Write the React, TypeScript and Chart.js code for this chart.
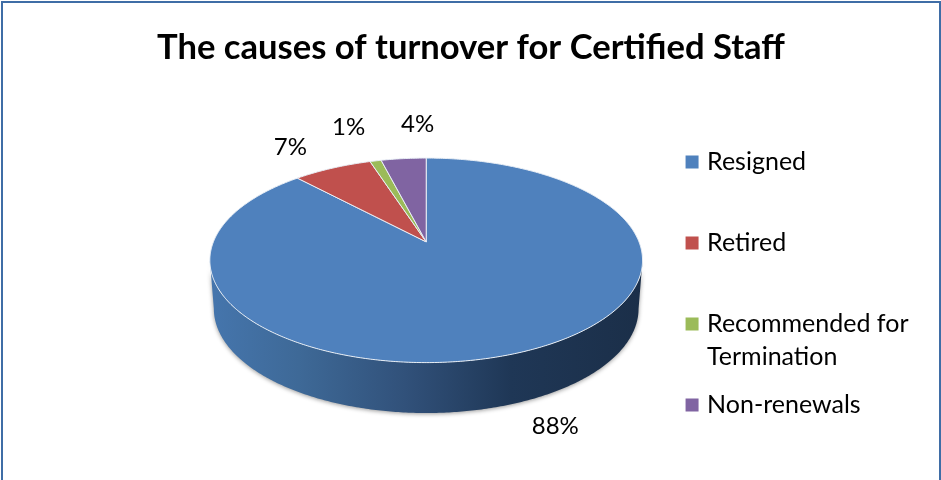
import React, { useEffect, useRef } from "react";
import { ArcElement, Chart, PieController, registerables } from "chart.js";

const titleText = "The causes of turnover for Certified Staff";
const categories = [
  ["Resigned", " "],
  ["Retired", " "],
  ["Recommended for", "Termination"],
  ["Non-renewals", " "],
];
const shares = [88, 7, 1, 4];
const sliceColors = ["#4F81BD", "#C0504D", "#9BBB59", "#8064A2"];

// Nudges of each percentage label away from the rim of its slice, in pixels.
const labelNudges = [
  [35, 74],
  [-42, -21],
  [-27, -34],
  [14, -34],
];

const FONT = "Lato, 'Open Sans', sans-serif";

// Perspective of the tilted disc, as ratios of the library's outer radius.
const SOLID = {
  shiftX: 0.0553,
  shiftY: -0.226,
  width: 1.129,
  depth: 0.525,
  foreshorten: 0.18,
  wallDrop: 48.5 / 189,
  wallWidth: 0.9816,
  wallDepth: 1.02,
};

const wallShades: [number, string][] = [
  [0, "#4575AC"],
  [0.2, "#3E6997"],
  [0.45, "#31517A"],
  [0.7, "#1F3756"],
  [1, "#1B2F49"],
];

type Point = { x: number; y: number };

function rimPoint(arc: any, theta: number): Point {
  const r = arc.outerRadius;
  const w = 1 + SOLID.foreshorten * Math.cos(theta);
  return {
    x: arc.x + SOLID.shiftX * r + (SOLID.width * r * Math.sin(theta)) / w,
    y: arc.y + SOLID.shiftY * r - (SOLID.depth * r * Math.cos(theta)) / w,
  };
}

function apexOf(arc: any): Point {
  const r = arc.outerRadius;
  return { x: arc.x + SOLID.shiftX * r, y: arc.y + SOLID.shiftY * r };
}

// The lower rim is the upper rim pulled in slightly and dropped by the wall height.
function lowerRimPoint(arc: any, theta: number): Point {
  const r = arc.outerRadius;
  const top = rimPoint(arc, theta);
  const cx = apexOf(arc).x;
  const k = SOLID.foreshorten;
  const midY = apexOf(arc).y + (SOLID.depth * r * k) / (1 - k * k);
  return {
    x: cx + (top.x - cx) * SOLID.wallWidth,
    y: midY + SOLID.wallDrop * r + (top.y - midY) * SOLID.wallDepth,
  };
}

function sweep(from: number, to: number): number[] {
  const steps = Math.max(2, Math.ceil((to - from) / 0.01));
  const out: number[] = [];
  for (let i = 0; i <= steps; i++) out.push(from + ((to - from) * i) / steps);
  return out;
}

class PerspectiveArc extends ArcElement {
  static id = "perspectiveArc";

  draw(ctx: CanvasRenderingContext2D) {
    const arc: any = this;
    const from = arc.startAngle + Math.PI / 2;
    const to = arc.endAngle + Math.PI / 2;
    const { backgroundColor, borderColor, borderWidth } = arc.options;

    // Front wall: only the part of the rim that faces the viewer.
    const frontStart = Math.acos(-SOLID.foreshorten);
    const frontEnd = Math.PI * 2 - frontStart;
    const lo = Math.max(from, frontStart);
    const hi = Math.min(to, frontEnd);
    if (lo < hi) {
      const angles = sweep(lo, hi);
      const left = lowerRimPoint(arc, frontEnd).x;
      const right = lowerRimPoint(arc, frontStart).x;
      const fill = ctx.createLinearGradient(left, 0, right, 0);
      wallShades.forEach(([stop, color]) => fill.addColorStop(stop, color));
      ctx.save();
      ctx.beginPath();
      angles.forEach((t, i) => {
        const p = rimPoint(arc, t);
        if (i === 0) ctx.moveTo(p.x, p.y);
        else ctx.lineTo(p.x, p.y);
      });
      [...angles].reverse().forEach((t) => {
        const p = lowerRimPoint(arc, t);
        ctx.lineTo(p.x, p.y);
      });
      ctx.closePath();
      ctx.shadowColor = "rgba(0,0,0,0.4)";
      ctx.shadowBlur = 4;
      ctx.shadowOffsetY = 1;
      ctx.fillStyle = fill;
      ctx.fill();
      ctx.restore();
    }

    // Top face of the slice.
    const apex = apexOf(arc);
    ctx.save();
    ctx.beginPath();
    ctx.moveTo(apex.x, apex.y);
    sweep(from, to).forEach((t) => {
      const p = rimPoint(arc, t);
      ctx.lineTo(p.x, p.y);
    });
    ctx.closePath();
    ctx.fillStyle = backgroundColor;
    ctx.fill();
    ctx.strokeStyle = borderColor;
    ctx.lineWidth = borderWidth;
    ctx.lineJoin = "round";
    ctx.stroke();
    ctx.restore();
  }
}

class PerspectivePie extends PieController {
  static id = "perspectivePie";
  static defaults = { dataElementType: "perspectiveArc" };
}

const percentLabels = {
  id: "percentLabels",
  afterDatasetsDraw(chart: any) {
    const { ctx } = chart;
    const arcs = chart.getDatasetMeta(0).data;
    const total = shares.reduce((a, b) => a + b, 0);
    ctx.save();
    ctx.font = `24px ${FONT}`;
    ctx.fillStyle = "#000";
    ctx.textAlign = "center";
    ctx.textBaseline = "middle";
    arcs.forEach((arc: any, i: number) => {
      const mid = (arc.startAngle + arc.endAngle) / 2 + Math.PI / 2;
      const rim = rimPoint(arc, mid);
      const text = `${Math.round((shares[i] / total) * 100)}%`;
      ctx.fillText(text, rim.x + labelNudges[i][0], rim.y + labelNudges[i][1]);
    });
    ctx.restore();
  },
};

Chart.register(...registerables, PerspectiveArc as any, PerspectivePie as any);

export default function App() {
  const canvasRef = useRef<HTMLCanvasElement>(null);

  useEffect(() => {
    const chart = new Chart(canvasRef.current!, {
      type: "perspectivePie" as any,
      data: {
        labels: categories as any,
        datasets: [
          {
            data: shares,
            backgroundColor: sliceColors,
            borderColor: "#E8EEF5",
            borderWidth: 1,
          },
        ],
      },
      options: {
        responsive: false,
        maintainAspectRatio: false,
        animation: false,
        events: [],
        layout: { padding: { left: 157, right: 22.5, top: 0, bottom: 6.5 } },
        plugins: {
          title: {
            display: true,
            text: titleText,
            align: "start",
            color: "#000",
            font: { family: FONT, size: 34.6, weight: "bold", lineHeight: 1.2 },
            padding: { top: 27, bottom: 27 },
          },
          legend: {
            display: true,
            position: "right",
            align: "end",
            labels: {
              color: "#000",
              font: { family: FONT, size: 25, lineHeight: 1.32 },
              usePointStyle: true,
              pointStyle: "rect",
              boxWidth: 5,
              boxHeight: 13,
              padding: 15,
              generateLabels: () =>
                categories.map((text, i) => ({
                  text: text as any,
                  fillStyle: sliceColors[i],
                  strokeStyle: sliceColors[i],
                  lineWidth: 0,
                  pointStyle: "rect",
                  index: i,
                })),
            },
          },
          tooltip: { enabled: false },
        },
      } as any,
      plugins: [percentLabels],
    });
    return () => chart.destroy();
  }, []);

  return (
    <div style={{ position: "absolute", left: 0, top: 0, width: 941, height: 480, overflow: "hidden", background: "#fff" }}>
      <div
        style={{
          position: "absolute",
          left: 1,
          top: 1,
          width: 936,
          height: 520,
          borderLeft: "2px solid #3F6DA6",
          borderTop: "2px solid #3F6DA6",
          borderRight: "2px solid #3F6DA6",
        }}
      />
      <canvas ref={canvasRef} width={941} height={480} style={{ position: "absolute", left: 0, top: 0 }} />
    </div>
  );
}
